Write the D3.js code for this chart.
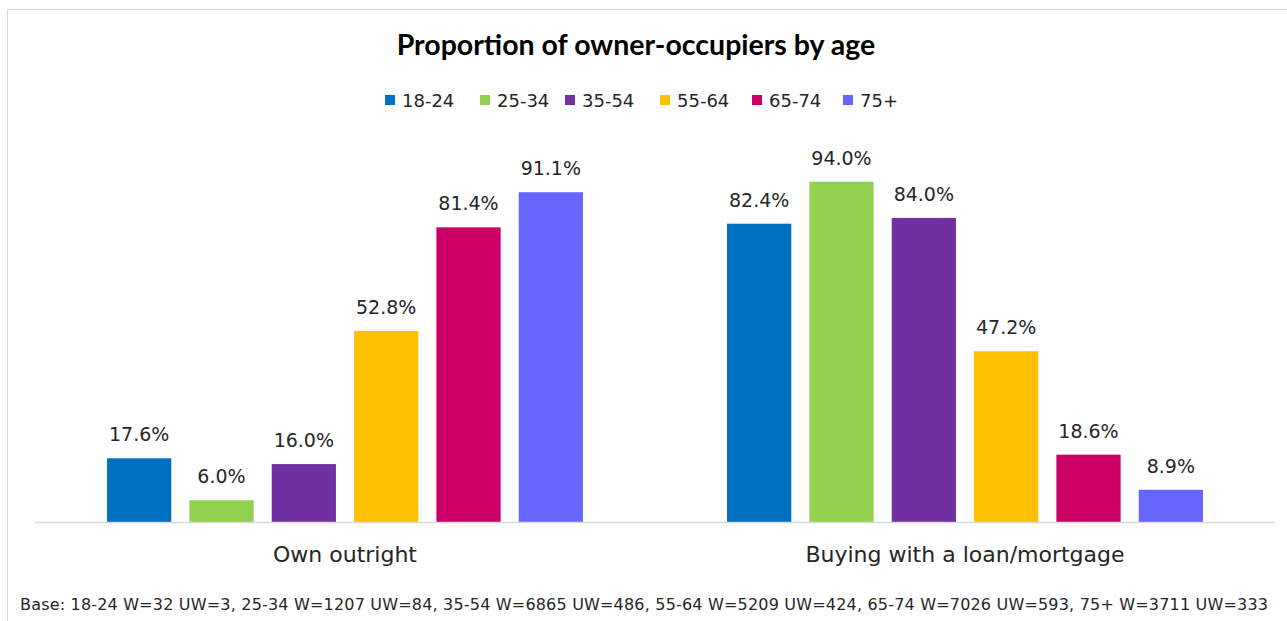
<!DOCTYPE html>
<html lang="en">
<head>
    <meta charset="UTF-8">
    <title>Proportion of owner-occupiers by age</title>
    <script src="https://d3js.org/d3.v7.min.js"></script>
    <style>
        body { margin: 0; background: #fff; }
        text { font-family: "DejaVu Sans", sans-serif; fill: #262626; }
        .title { font-family: "Lato", "DejaVu Sans", sans-serif; }
    </style>
</head>
<body>
    <svg width="1287" height="621"></svg>
    <script>
        const categories = ['Own outright', 'Buying with a loan/mortgage'];
        const ageGroups = ['18-24', '25-34', '35-54', '55-64', '65-74', '75+'];
        const ownOutright = [17.6, 6.0, 16.0, 52.8, 81.4, 91.1];
        const buyingWithLoan = [82.4, 94.0, 84.0, 47.2, 18.6, 8.9];
        const colors = ['#0070C0', '#92D050', '#7030A0', '#FFC000', '#CC0066', '#6666FF'];
        const baseNote = 'Base: 18-24 W=32 UW=3, 25-34 W=1207 UW=84, 35-54 W=6865 UW=486, 55-64 W=5209 UW=424, 65-74 W=7026 UW=593, 75+ W=3711 UW=333';

        const values = [ownOutright, buyingWithLoan];

        const svg = d3.select('svg');

        // chart frame
        svg.append('rect')
            .attr('x', 7.5).attr('y', 9.5)
            .attr('width', 1300).attr('height', 640)
            .attr('fill', 'none')
            .attr('stroke', '#d9d9d9');

        const x0 = d3.scaleBand().domain(categories).range([35, 1275]);
        const x1 = d3.scaleBand().domain(ageGroups)
            .range([63, 557])
            .paddingInner(0.22)
            .paddingOuter(0.11);
        const y = d3.scaleLinear().domain([0, 100]).range([522, 160]);
        const color = d3.scaleOrdinal().domain(ageGroups).range(colors);

        svg.append('text')
            .attr('class', 'title')
            .attr('x', 636).attr('y', 55)
            .attr('text-anchor', 'middle')
            .style('font-size', '28.5px')
            .style('font-weight', 'bold')
            .style('fill', '#000')
            .text('Proportion of owner-occupiers by age');

        // legend
        const legendX = [385, 480, 565, 660, 752, 843];
        const legend = svg.append('g').selectAll('g')
            .data(ageGroups)
            .enter().append('g')
            .attr('transform', (d, i) => `translate(${legendX[i]},100)`);
        legend.append('rect')
            .attr('x', 0).attr('y', -5)
            .attr('width', 10).attr('height', 10)
            .attr('fill', d => color(d));
        legend.append('text')
            .attr('x', 17).attr('y', 7)
            .style('font-size', '18px')
            .text(d => d);

        const groups = svg.append('g').selectAll('g')
            .data(categories)
            .enter().append('g')
            .attr('transform', d => `translate(${x0(d)},0)`);

        const bars = groups.selectAll('g')
            .data((d, i) => ageGroups.map((a, j) => ({ age: a, value: values[i][j] })))
            .enter().append('g');

        bars.append('rect')
            .attr('x', d => x1(d.age))
            .attr('y', d => y(d.value))
            .attr('width', x1.bandwidth())
            .attr('height', d => y(0) - y(d.value))
            .attr('fill', d => color(d.age));

        bars.append('text')
            .attr('x', d => x1(d.age) + x1.bandwidth() / 2)
            .attr('y', d => y(d.value) - 17)
            .attr('text-anchor', 'middle')
            .style('font-size', '19px')
            .text(d => d.value.toFixed(1) + '%');

        // baseline
        svg.append('line')
            .attr('x1', 35).attr('x2', 1275)
            .attr('y1', 522.5).attr('y2', 522.5)
            .attr('stroke', '#d9d9d9')
            .attr('stroke-width', 1.5);

        svg.append('g').selectAll('text')
            .data(categories)
            .enter().append('text')
            .attr('x', d => x0(d) + x0.bandwidth() / 2)
            .attr('y', 562)
            .attr('text-anchor', 'middle')
            .style('font-size', '22px')
            .text(d => d);

        svg.append('text')
            .attr('x', 20).attr('y', 610)
            .attr('textLength', 1248)
            .attr('lengthAdjust', 'spacing')
            .style('font-size', '16px')
            .text(baseNote);
    </script>
</body>
</html>
